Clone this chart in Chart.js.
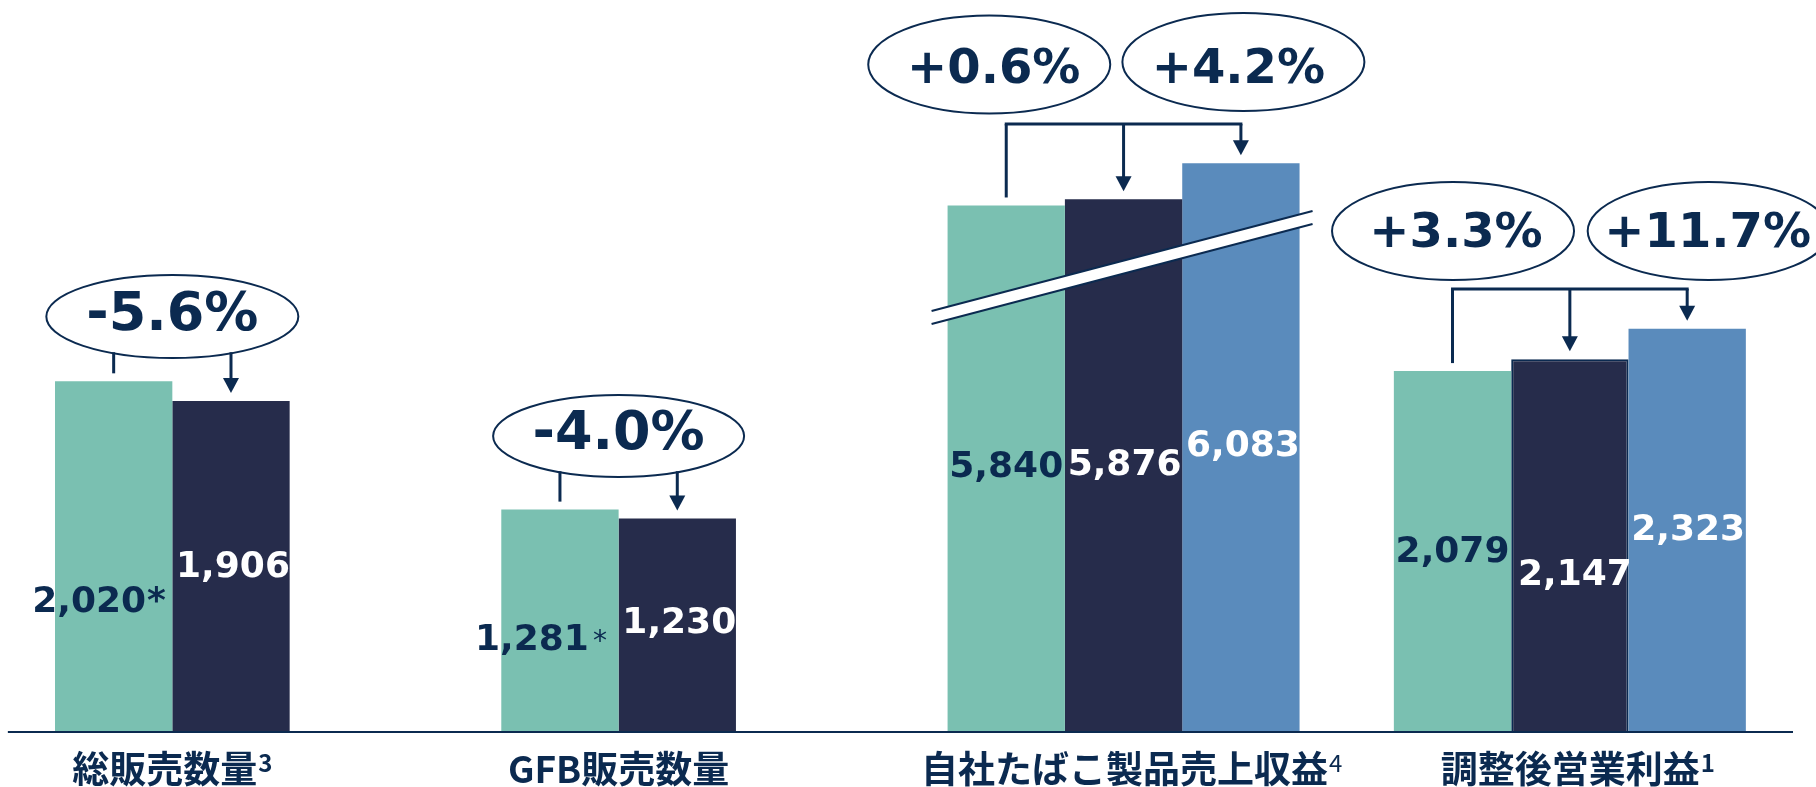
<!DOCTYPE html>
<html><head><meta charset="utf-8">
<script src="https://cdn.jsdelivr.net/npm/chart.js@4.4.1/dist/chart.umd.min.js"></script>
<style>html,body{margin:0;padding:0;background:#fff;}canvas{display:block;}</style>
</head><body>
<canvas id="c" width="1816" height="787"></canvas>
<script>
// ---------- data ----------
const categories = ['総販売数量', 'GFB販売数量', '自社たばこ製品売上収益', '調整後営業利益'];
const categoryNotes = ['3', '', '4', '1'];
const prevYear = [2020, 1281, 5840, 2079];
const currentYear = [1906, 1230, 5876, 2147];
const forecast = [null, null, 6083, 2323];
const prevYearMarks = ['*', '*', '', ''];
const changeCurrent = ['-5.6%', '-4.0%', '+0.6%', '+3.3%'];
const changeForecast = [null, null, '+4.2%', '+11.7%'];
const axisBreakAmount = [0, 0, 2807, 0];   // value hidden by the broken axis

// ---------- style ----------
const INK = '#0b2a50';
const COLORS = ['#7ac0b1', '#262c4b', '#5a8bbc'];
const plot = arr => arr.map((v, i) => v == null ? null : v - axisBreakAmount[i]);
const seriesValues = [prevYear, currentYear, forecast];
const labelColors = [INK, '#ffffff', '#ffffff'];
// label baseline height above axis, and x shift from bar centre
const labelRise = [[120, 82, 255, 170], [155.5, 99.3, 257, 147], [null, null, 276, 192]];
const labelShift = [[-24.5, -28, 0, 0], [2, 2, 1, 5], [0, 0, 2, 1]];
const markStyle = [{font: 'bold 36px "DejaVu Sans"', gap: 1}, {font: '28px "DejaVu Sans"', gap: 4}];

const callouts = [
  {g: 0, text: changeCurrent[0], ref: [0, 1], dx: 0,    h: 415.5, rx: 126,   ry: 41.5, fs: 54, bh: 402, tdx: 0},
  {g: 1, text: changeCurrent[1], ref: [0, 1], dx: 0,    h: 296,   rx: 125.5, ry: 41,   fs: 54, bh: 283, tdx: 0},
  {g: 2, text: changeCurrent[2], ref: [0],    dx: -17,  h: 667.5, rx: 121,   ry: 49,   fs: 48, bh: 649, tdx: 4.5},
  {g: 2, text: changeForecast[2], ref: [2],   dx: 2.5,  h: 670,   rx: 121,   ry: 49,   fs: 48, bh: 649, tdx: -5},
  {g: 3, text: changeCurrent[3], ref: [0],    dx: 0.5,  h: 501,   rx: 121,   ry: 49,   fs: 48, bh: 485, tdx: 3},
  {g: 3, text: changeForecast[3], ref: [2],   dx: 21.5, h: 501,   rx: 121,   ry: 49,   fs: 48, bh: 485, tdx: -1},
];
const bracketRise = [null, null, 608, 443];
const categoryShift = [0, 0, 8, 8];

function arrowHead(ctx, x, yTip) {
  ctx.beginPath();
  ctx.moveTo(x, yTip); ctx.lineTo(x - 8, yTip - 15); ctx.lineTo(x + 8, yTip - 15); ctx.closePath();
  ctx.fill();
}
function vline(ctx, x, y0, y1) {
  ctx.beginPath(); ctx.moveTo(x, y0); ctx.lineTo(x, y1); ctx.stroke();
}

const overlay = {
  id: 'overlay',
  afterDatasetsDraw(chart) {
    const ctx = chart.ctx, area = chart.chartArea, B = area.bottom;
    const meta = [0, 1, 2].map(i => chart.getDatasetMeta(i).data);
    ctx.save();

    // axis break band across the revenue group
    {
      const t = meta[0][2], u = meta[2][2];
      const x0 = t.x - t.width / 2 - 16, x1 = u.x + u.width / 2 + 13;
      const yL = B - 421, yR = B - 521, th = 13;
      ctx.fillStyle = '#fff';
      ctx.beginPath();
      ctx.moveTo(x0, yL); ctx.lineTo(x1, yR); ctx.lineTo(x1, yR + th); ctx.lineTo(x0, yL + th);
      ctx.closePath(); ctx.fill();
      ctx.strokeStyle = INK; ctx.lineWidth = 2;
      ctx.beginPath(); ctx.moveTo(x0, yL); ctx.lineTo(x1, yR); ctx.stroke();
      ctx.beginPath(); ctx.moveTo(x0, yL + th); ctx.lineTo(x1, yR + th); ctx.stroke();
    }

    // axis line
    ctx.strokeStyle = INK; ctx.lineWidth = 2;
    ctx.beginPath(); ctx.moveTo(area.left, B); ctx.lineTo(area.right, B); ctx.stroke();

    // value labels
    ctx.textBaseline = 'alphabetic';
    for (let s = 0; s < 3; s++) {
      for (let g = 0; g < categories.length; g++) {
        const v = seriesValues[s][g];
        if (v == null) continue;
        const bar = meta[s][g];
        const txt = v.toLocaleString('en-US');
        ctx.font = 'bold 36px "DejaVu Sans"';
        ctx.fillStyle = labelColors[s];
        ctx.textAlign = 'center';
        const cx = bar.x + labelShift[s][g], by = B - labelRise[s][g];
        ctx.fillText(txt, cx, by);
        if (s === 0 && prevYearMarks[g]) {
          const w = ctx.measureText(txt).width;
          const ms = markStyle[g];
          ctx.font = ms.font; ctx.textAlign = 'left';
          ctx.fillText(prevYearMarks[g], cx + w / 2 + ms.gap, by);
        }
      }
    }

    // callout ellipses
    ctx.lineWidth = 2; ctx.strokeStyle = INK;
    const ell = [];
    for (const c of callouts) {
      const xs = c.ref.map(r => meta[r][c.g].x);
      const cx = xs.reduce((a, b) => a + b, 0) / xs.length + c.dx;
      const cy = B - c.h;
      ctx.fillStyle = '#fff';
      ctx.beginPath(); ctx.ellipse(cx, cy, c.rx, c.ry, 0, 0, Math.PI * 2); ctx.fill(); ctx.stroke();
      ctx.fillStyle = INK; ctx.textAlign = 'center'; ctx.textBaseline = 'alphabetic';
      ctx.font = 'bold ' + c.fs + 'px "DejaVu Sans"';
      ctx.fillText(c.text, cx + c.tdx, B - c.bh);
      ell.push({g: c.g, cx, cy, rx: c.rx, ry: c.ry});
    }

    // connectors
    ctx.lineWidth = 3; ctx.strokeStyle = INK; ctx.fillStyle = INK;
    for (let g = 0; g < categories.length; g++) {
      const bs = [0, 1, 2].map(s => meta[s][g]).filter((b, s) => seriesValues[s][g] != null);
      if (bracketRise[g] == null) {
        const e = ell.find(e => e.g === g);
        const yEdge = x => e.cy + e.ry * Math.sqrt(Math.max(0, 1 - ((x - e.cx) / e.rx) ** 2)) - 1;
        const a = bs[0], b = bs[1];
        vline(ctx, a.x, yEdge(a.x), a.y - 8);
        vline(ctx, b.x, yEdge(b.x), b.y - 22);
        arrowHead(ctx, b.x, b.y - 8);
      } else {
        const yb = B - bracketRise[g];
        ctx.beginPath(); ctx.moveTo(bs[0].x - 1.5, yb); ctx.lineTo(bs[bs.length - 1].x + 1.5, yb); ctx.stroke();
        vline(ctx, bs[0].x, yb, bs[0].y - 8);
        for (let k = 1; k < bs.length; k++) {
          vline(ctx, bs[k].x, yb, bs[k].y - 22);
          arrowHead(ctx, bs[k].x, bs[k].y - 8);
        }
      }
    }

    // category labels
    for (let g = 0; g < categories.length; g++) {
      const bs = [0, 1, 2].map(s => meta[s][g]).filter((b, s) => seriesValues[s][g] != null);
      const center = bs.reduce((a, b) => a + b.x, 0) / bs.length + categoryShift[g];
      const mainFont = 'bold 37px "Noto Sans CJK JP"';
      const noteFont = (g === 2 ? '' : 'bold ') + '24px "Noto Sans CJK JP"';
      ctx.font = mainFont;
      const w1 = ctx.measureText(categories[g]).width;
      ctx.font = noteFont;
      const w2 = categoryNotes[g] ? ctx.measureText(categoryNotes[g]).width + 1 : 0;
      const x0 = center - (w1 + w2) / 2;
      ctx.fillStyle = INK; ctx.textAlign = 'left';
      ctx.font = mainFont; ctx.textBaseline = 'middle';
      ctx.fillText(categories[g], x0, 769);
      if (categoryNotes[g]) {
        ctx.font = noteFont; ctx.textBaseline = 'alphabetic';
        ctx.fillText(categoryNotes[g], x0 + w1 + 1, 772);
      }
    }
    ctx.restore();
  }
};

new Chart(document.getElementById('c'), {
  type: 'bar',
  data: {
    labels: categories,
    datasets: [
      {label: '前年', data: plot(prevYear), backgroundColor: COLORS[0], borderWidth: 0},
      {label: '当年', data: plot(currentYear), backgroundColor: COLORS[1], borderColor: INK, borderWidth: [0, 0, 0, 2]},
      {label: '予想', data: plot(forecast), backgroundColor: COLORS[2], borderWidth: 0}
    ]
  },
  options: {
    responsive: false,
    animation: false,
    devicePixelRatio: 1,
    datasets: {bar: {categoryPercentage: 0.7887, barPercentage: 1}},
    layout: {padding: {left: 7.85, right: 23, top: 37.6, bottom: 55}},
    plugins: {legend: {display: false}, tooltip: {enabled: false}},
    scales: {
      x: {display: false},
      y: {display: false, min: 0, max: 4000}
    }
  },
  plugins: [overlay]
});
</script>
</body></html>
